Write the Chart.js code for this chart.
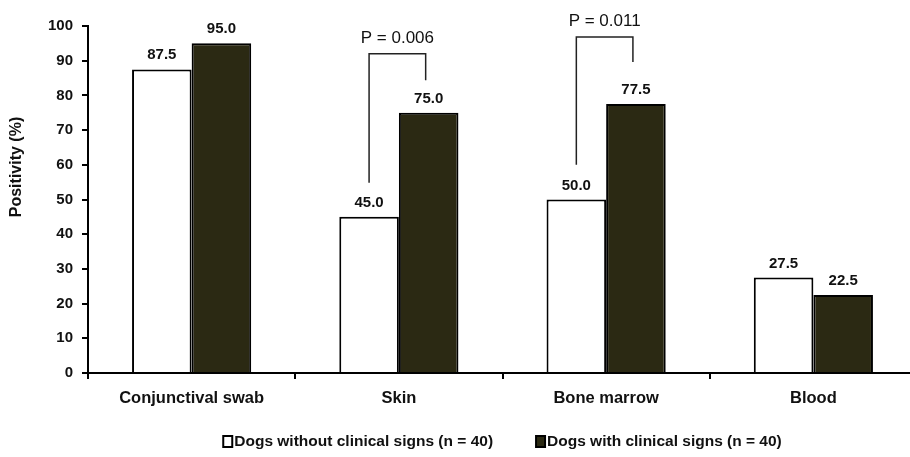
<!DOCTYPE html>
<html>
<head>
<meta charset="utf-8">
<script src="https://cdn.jsdelivr.net/npm/chart.js@4.4.0/dist/chart.umd.min.js"></script>
<style>
  html, body { margin: 0; padding: 0; background: #fff; overflow: hidden; }
  #wrap { width: 920px; height: 457px; }
</style>
</head>
<body>
<div id="wrap"><canvas id="chart" width="920" height="457"></canvas></div>
<script>
const categories = ['Conjunctival swab', 'Skin', 'Bone marrow', 'Blood'];
const withoutSigns = [87.5, 45.0, 50.0, 27.5];
const withSigns = [95.0, 75.0, 77.5, 22.5];
const seriesNames = ['Dogs without clinical signs (n = 40)', 'Dogs with clinical signs (n = 40)'];
const yTicks = [0, 10, 20, 30, 40, 50, 60, 70, 80, 90, 100];

// significance brackets (category index, text, left foot, top, right foot) in % units
const pCats = [1, 2];
const pTexts = ['P = 0.006', 'P = 0.011'];
const pLeftFoot = [54.8, 60.0];
const pTop = [92.0, 96.8];
const pRightFoot = [84.4, 89.6];

const darkFill = '#2b2913';
const fontFam = '"Liberation Sans", Arial, sans-serif';

const extras = {
  id: 'extras',
  afterDatasetsDraw(chart) {
    const ctx = chart.ctx;
    const y = chart.scales.y;
    ctx.save();
    // value labels
    ctx.fillStyle = '#111';
    ctx.font = 'bold 15px ' + fontFam;
    ctx.textAlign = 'center';
    ctx.textBaseline = 'alphabetic';
    chart.data.datasets.forEach((ds, i) => {
      chart.getDatasetMeta(i).data.forEach((bar, j) => {
        ctx.fillText(ds.data[j].toFixed(1), bar.x, bar.y - 10);
      });
    });
    // brackets
    ctx.strokeStyle = '#222';
    ctx.lineWidth = 1.5;
    ctx.font = '17px ' + fontFam;
    pCats.forEach((c, k) => {
      const x1 = chart.getDatasetMeta(0).data[c].x;
      const x2 = chart.getDatasetMeta(1).data[c].x - 3;
      const yt = y.getPixelForValue(pTop[k]);
      ctx.beginPath();
      ctx.moveTo(x1, y.getPixelForValue(pLeftFoot[k]));
      ctx.lineTo(x1, yt);
      ctx.lineTo(x2, yt);
      ctx.lineTo(x2, y.getPixelForValue(pRightFoot[k]));
      ctx.stroke();
      ctx.fillText(pTexts[k], (x1 + x2) / 2, yt - 11);
    });
    ctx.restore();
  },
  afterDraw(chart) {
    const ctx = chart.ctx;
    const area = chart.chartArea;
    ctx.save();
    // y axis title
    ctx.fillStyle = '#111';
    ctx.font = 'bold 16px ' + fontFam;
    ctx.translate(17, 167);
    ctx.rotate(-Math.PI / 2);
    ctx.textAlign = 'center';
    ctx.textBaseline = 'middle';
    ctx.fillText('Positivity (%)', 0, 0);
    ctx.restore();

    // legend centred under the plot area
    ctx.save();
    ctx.font = 'bold 15.5px ' + fontFam;
    ctx.textBaseline = 'middle';
    const gap = 43, box = 10;
    const widths = seriesNames.map(t => ctx.measureText(t).width + box + 1);
    const total = widths[0] + widths[1] + gap;
    let x = (area.left + area.right) / 2 - total / 2;
    const ly = 442;
    chart.data.datasets.forEach((ds, i) => {
      ctx.fillStyle = ds.backgroundColor;
      ctx.fillRect(x, ly - 6, box - 1, box + 1);
      ctx.strokeStyle = '#000';
      ctx.lineWidth = 2;
      ctx.strokeRect(x, ly - 6, box - 1, box + 1);
      ctx.fillStyle = '#111';
      ctx.fillText(seriesNames[i], x + box + 1, ly);
      x += widths[i] + gap;
    });
    ctx.restore();
  }
};

new Chart(document.getElementById('chart'), {
  type: 'bar',
  data: {
    labels: categories,
    datasets: [
      {
        label: seriesNames[0],
        data: withoutSigns,
        backgroundColor: '#ffffff',
        borderColor: '#000',
        borderWidth: 2
      },
      {
        label: seriesNames[1],
        data: withSigns,
        backgroundColor: darkFill,
        borderColor: '#000',
        borderWidth: 2
      }
    ]
  },
  options: {
    responsive: false,
    animation: false,
    layout: { padding: { top: 26, right: 3, left: 0, bottom: 0 } },
    datasets: {
      bar: { categoryPercentage: 0.575, barPercentage: 1.0 }
    },
    plugins: {
      legend: { display: false },
      tooltip: { enabled: false }
    },
    scales: {
      x: {
        afterFit(scale) { scale.height = 84; },
        grid: { drawOnChartArea: false, offset: true, tickLength: 6, color: '#000', lineWidth: 2 },
        border: { color: '#000', width: 2 },
        ticks: {
          color: '#111',
          padding: 10,
          font: { family: fontFam, size: 16.5, weight: 'bold' }
        }
      },
      y: {
        min: 0,
        max: 100,
        afterFit(scale) { scale.width = 88; },
        afterBuildTicks(scale) { scale.ticks = yTicks.map(v => ({ value: v })); },
        grid: { drawOnChartArea: false, tickLength: 6, color: '#000', lineWidth: 2 },
        border: { color: '#000', width: 2 },
        ticks: {
          color: '#111',
          padding: 9,
          font: { family: fontFam, size: 15, weight: 'bold' }
        }
      }
    }
  },
  plugins: [extras]
});
</script>
</body>
</html>
